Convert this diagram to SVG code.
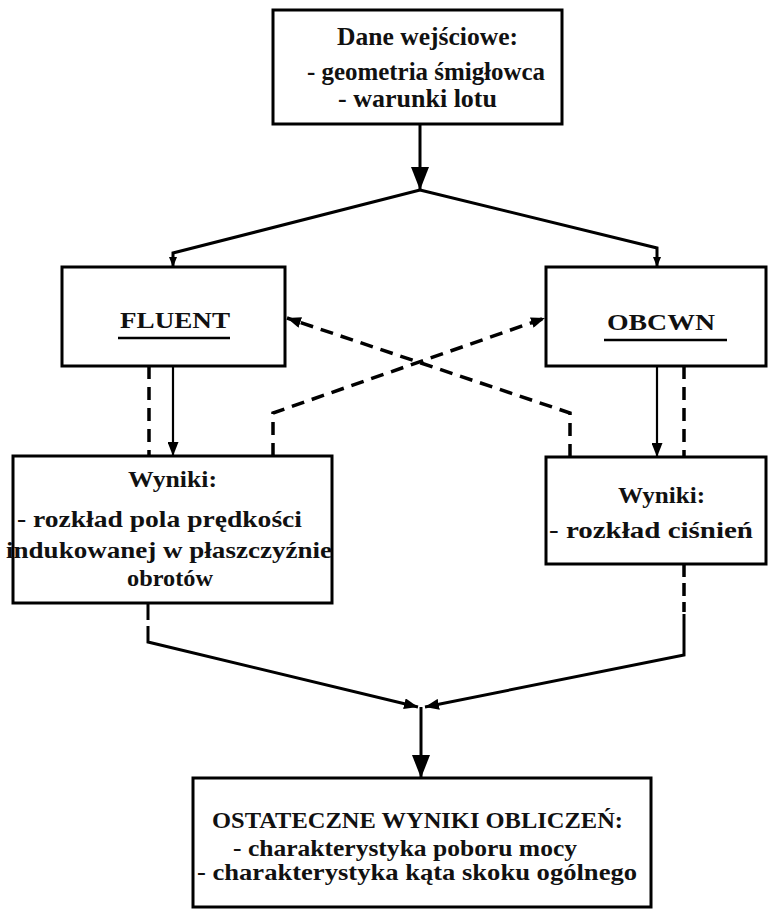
<svg xmlns="http://www.w3.org/2000/svg" width="768" height="910" viewBox="0 0 768 910">
<style>
.box{fill:#fff;stroke:#000;stroke-width:3}
.t{font-family:"Liberation Serif","Times New Roman",serif;font-weight:bold;fill:#111}
.ln{fill:none;stroke:#000;stroke-width:3}
.thin{fill:none;stroke:#000;stroke-width:2.2}
.dash{fill:none;stroke:#000;stroke-width:3.5;stroke-dasharray:13 8}
</style>
<defs>
<marker id="big" viewBox="0 0 23 18" refX="23" refY="9" markerWidth="23" markerHeight="18" markerUnits="userSpaceOnUse" orient="auto"><path d="M0,0 L23,9 L0,18 Z" fill="#000"/></marker>
<marker id="med" viewBox="0 0 14 11" refX="14" refY="5.5" markerWidth="14" markerHeight="11" markerUnits="userSpaceOnUse" orient="auto"><path d="M0,0 L14,5.5 L0,11 Z" fill="#000"/></marker>
<marker id="sm" viewBox="0 0 10 8" refX="10" refY="4" markerWidth="10" markerHeight="8" markerUnits="userSpaceOnUse" orient="auto"><path d="M0,0 L10,4 L0,8 Z" fill="#000"/></marker>
</defs>
<rect width="768" height="910" fill="#fff"/>

<g id="connectors">
<path class="ln" d="M420,124 L420,190" marker-end="url(#big)"/>
<path class="ln" d="M420,190 L173,253 L173,267" marker-end="url(#sm)"/>
<path class="ln" d="M420,190 L657,248 L657,267" marker-end="url(#sm)"/>
<path class="thin" d="M173,366 L173,456" marker-end="url(#med)"/>
<path class="dash" d="M149,366 L149,456"/>
<path class="thin" d="M657,366 L657,457" marker-end="url(#med)"/>
<path class="dash" d="M684,366 L684,457"/>
<path class="dash" d="M273,456 L273,413 L545,318" marker-end="url(#med)"/>
<path class="dash" d="M570,457 L570,413 L287,318" marker-end="url(#med)"/>
<path class="ln" d="M148,603 L148,620"/>
<path class="ln" d="M148,626 L148,642 L418,707" marker-end="url(#med)"/>
<path class="dash" d="M684,564 L684,612" style="stroke-dasharray:13 6"/>
<path class="ln" d="M684,614 L684,655 L425,707" marker-end="url(#med)"/>
<path class="ln" d="M421,707 L421,778" marker-end="url(#big)"/>
</g>

<g id="dane">
<rect class="box" x="273" y="10" width="289" height="114"/>
<text class="t" font-size="25" x="337" y="45" textLength="181" lengthAdjust="spacingAndGlyphs">Dane wejściowe:</text>
<text class="t" font-size="25" x="307" y="80" textLength="238" lengthAdjust="spacingAndGlyphs">- geometria śmigłowca</text>
<text class="t" font-size="25" x="338" y="107" textLength="159" lengthAdjust="spacingAndGlyphs">- warunki lotu</text>
</g>

<g id="fluent">
<rect class="box" x="62" y="267" width="223" height="99"/>
<text class="t" font-size="24" x="120" y="328" textLength="110" lengthAdjust="spacingAndGlyphs">FLUENT</text>
<line x1="118" y1="338" x2="230" y2="338" stroke="#000" stroke-width="2.5"/>
</g>

<g id="obcwn">
<rect class="box" x="546" y="267" width="220" height="99"/>
<text class="t" font-size="24" x="607" y="330" textLength="108" lengthAdjust="spacingAndGlyphs">OBCWN</text>
<line x1="604" y1="340" x2="727" y2="340" stroke="#000" stroke-width="2.5"/>
</g>

<g id="wyniki-fluent">
<rect class="box" x="13" y="456" width="319" height="147"/>
<text class="t" font-size="24" x="128" y="487" textLength="89" lengthAdjust="spacingAndGlyphs">Wyniki:</text>
<text class="t" font-size="24" x="17" y="527" textLength="285" lengthAdjust="spacingAndGlyphs">- rozkład pola prędkości</text>
<text class="t" font-size="24" x="6" y="558" textLength="326" lengthAdjust="spacingAndGlyphs">indukowanej w płaszczyźnie</text>
<text class="t" font-size="24" x="127" y="586" textLength="86" lengthAdjust="spacingAndGlyphs">obrotów</text>
</g>

<g id="wyniki-obcwn">
<rect class="box" x="546" y="457" width="220" height="107"/>
<text class="t" font-size="24" x="618" y="503" textLength="87" lengthAdjust="spacingAndGlyphs">Wyniki:</text>
<text class="t" font-size="24" x="549" y="538" textLength="204" lengthAdjust="spacingAndGlyphs">- rozkład ciśnień</text>
</g>

<g id="ostateczne">
<rect class="box" x="193" y="778" width="458" height="129"/>
<text class="t" font-size="24" x="212" y="828" textLength="411" lengthAdjust="spacingAndGlyphs">OSTATECZNE WYNIKI OBLICZEŃ:</text>
<text class="t" font-size="24" x="233" y="856" textLength="344" lengthAdjust="spacingAndGlyphs">- charakterystyka poboru mocy</text>
<text class="t" font-size="24" x="197" y="880" textLength="440" lengthAdjust="spacingAndGlyphs">- charakterystyka kąta skoku ogólnego</text>
</g>
</svg>
